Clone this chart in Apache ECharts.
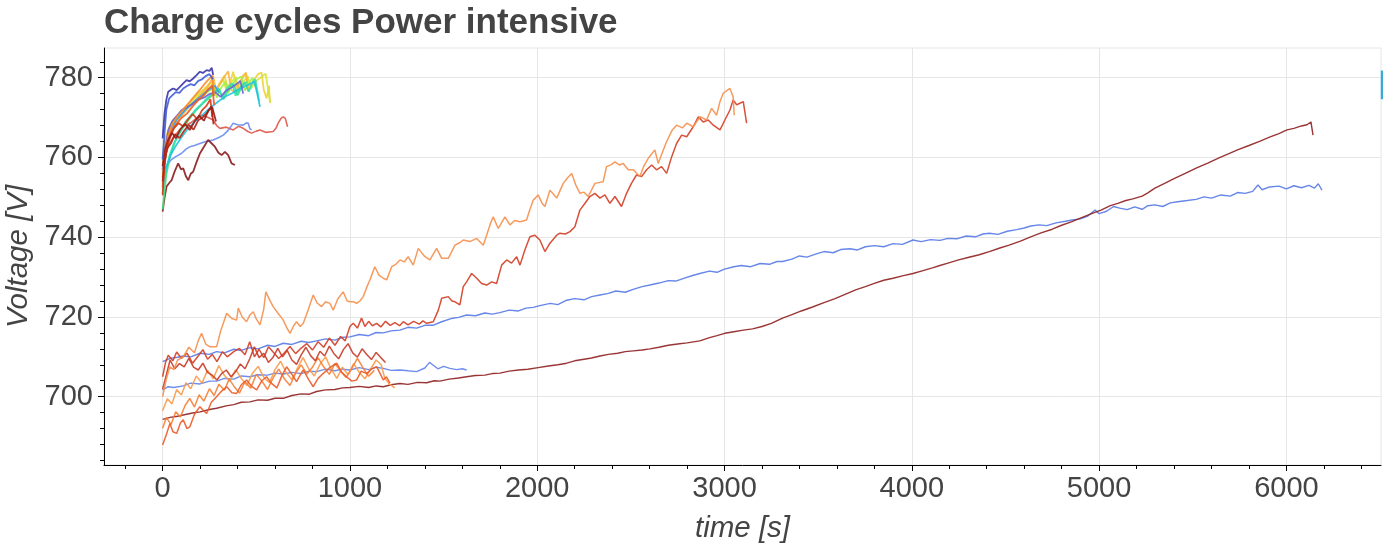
<!DOCTYPE html>
<html>
<head>
<meta charset="utf-8">
<title>Charge cycles Power intensive</title>
<script src="https://cdn.jsdelivr.net/npm/echarts@6/dist/echarts.min.js"></script>
<style>
  html, body { margin: 0; padding: 0; background: #ffffff; }
  #chart { width: 1391px; height: 550px; }
</style>
</head>
<body>
<div id="chart"></div>
<script>
// ---- axis ticks ----
const X_TICKS = [0, 1000, 2000, 3000, 4000, 5000, 6000];
const Y_TICKS = [700, 720, 740, 760, 780];

// ---- long charge cycles: [time s, voltage V] ----
const cycleLongBlue = [
  [0,708.8],[40,709.6],[80,709.9],[110,710.2],[150,710.0],[200,710.9],[250,710.6],[288,711.3],[330,711.0],[380,711.9],
  [420,711.6],[466,712.3],[510,712.0],[560,712.9],[600,712.6],[644,713.4],[690,713.1],[740,713.9],[780,713.6],[822,714.0],
  [870,714.5],[920,714.2],[960,714.9],[1000,715.0],[1050,715.6],[1100,715.3],[1140,716.1],[1178,716.0],[1220,716.5],[1267,716.7],
  [1310,717.4],[1356,717.2],[1400,717.9],[1443,717.9],[1490,718.8],[1540,719.6],[1580,719.9],[1623,720.5],[1670,720.3],[1720,721.0],
  [1760,720.7],[1801,721.1],[1850,721.7],[1900,721.5],[1940,722.2],[1979,722.4],[2020,722.9],[2070,723.4],[2110,723.1],[2157,724.2],
  [2200,724.6],[2250,724.3],[2290,725.1],[2335,725.5],[2380,725.9],[2420,726.5],[2470,726.2],[2512,726.9],[2560,727.6],[2602,728.0],
  [2650,728.5],[2700,729.1],[2740,729.0],[2790,729.8],[2830,730.4],[2868,730.9],[2920,731.5],[2960,731.2],[3000,732.0],[3050,732.6],
  [3090,732.9],[3140,732.6],[3190,733.4],[3240,733.2],[3280,733.9],[3310,733.9],[3360,734.5],[3400,735.3],[3440,735.0],[3490,735.8],
  [3531,736.4],[3580,736.1],[3620,736.9],[3670,737.1],[3710,736.8],[3752,737.6],[3800,737.9],[3850,737.6],[3900,738.4],[3950,738.2],
  [4006,739.3],[4050,738.9],[4100,739.4],[4150,739.2],[4193,739.7],[4240,739.6],[4290,740.3],[4340,740.1],[4380,740.8],[4414,741.0],
  [4460,740.7],[4510,741.5],[4560,741.9],[4600,742.3],[4635,742.8],[4680,743.1],[4720,742.9],[4770,743.6],[4820,744.0],[4855,744.3],
  [4900,744.6],[4940,745.3],[4978,746.8],[5000,745.9],[5040,746.5],[5077,747.7],[5110,747.3],[5150,746.9],[5190,747.6],[5230,747.0],
  [5260,747.9],[5298,748.1],[5340,747.7],[5380,748.6],[5420,748.9],[5470,749.2],[5518,749.5],[5560,750.1],[5600,749.8],[5650,750.6],
  [5700,750.3],[5739,751.2],[5780,751.0],[5820,751.5],[5848,753.1],[5870,751.9],[5910,752.6],[5960,752.8],[6000,752.1],[6040,752.9],
  [6080,752.4],[6120,753.0],[6150,752.3],[6170,753.4],[6190,751.8]
];
const cycleLongMaroon = [
  [0,694.3],[40,694.8],[80,695.1],[110,695.4],[160,695.9],[200,696.2],[250,696.8],[288,697.1],[340,697.7],[380,698.0],
  [420,698.6],[466,698.7],[510,699.2],[560,699.1],[600,699.6],[644,699.6],[690,700.3],[740,700.7],[780,700.6],[822,701.3],
  [870,701.7],[920,701.8],[960,702.2],[1000,702.3],[1050,702.6],[1100,702.3],[1140,702.7],[1178,702.5],[1220,703.0],[1267,703.3],
  [1310,703.1],[1360,703.6],[1410,703.5],[1450,704.0],[1480,703.9],[1530,704.4],[1580,704.7],[1623,705.0],[1670,705.3],[1720,705.4],
  [1760,705.8],[1801,705.9],[1850,706.4],[1900,706.7],[1950,706.9],[2005,707.3],[2060,707.7],[2110,708.0],[2157,708.4],[2200,709.0],
  [2250,709.4],[2290,709.7],[2335,710.2],[2380,710.6],[2430,710.9],[2470,711.3],[2513,711.5],[2560,711.7],[2602,712.0],[2650,712.4],
  [2700,712.9],[2750,713.2],[2800,713.5],[2868,714.0],[2920,714.8],[2960,715.3],[3001,715.9],[3050,716.3],[3100,716.7],[3150,717.0],
  [3200,717.6],[3250,718.4],[3310,719.7],[3360,720.6],[3410,721.5],[3470,722.5],[3531,723.6],[3590,724.6],[3650,725.8],[3700,726.8],
  [3752,727.6],[3800,728.4],[3850,729.2],[3900,729.7],[3950,730.3],[4006,730.9],[4060,731.6],[4110,732.3],[4150,732.9],[4193,733.5],
  [4250,734.3],[4300,734.9],[4360,735.6],[4414,736.4],[4470,737.3],[4520,738.0],[4580,739.0],[4635,740.1],[4690,741.1],[4750,742.0],
  [4800,743.0],[4855,743.9],[4900,744.8],[4960,745.9],[5010,746.8],[5060,747.9],[5100,748.5],[5143,749.2],[5180,749.6],[5230,750.3],
  [5260,751.1],[5298,752.3],[5350,753.5],[5400,754.7],[5460,756.0],[5518,757.3],[5580,758.6],[5640,759.9],[5690,760.9],[5739,761.9],
  [5800,763.0],[5860,764.1],[5910,765.1],[5960,766.0],[6003,766.9],[6040,767.3],[6080,767.9],[6110,768.2],[6131,768.9],[6142,765.6]
];
const cycleOrangeRise = [
  [0,700.0],[20,704.5],[39,707.5],[60,706.8],[80,709.2],[110,710.0],[140,712.4],[170,711.0],[190,714.0],[208,715.9],
  [230,713.2],[253,712.5],[288,712.5],[310,716.5],[342,720.9],[370,719.6],[395,719.2],[404,722.2],[425,720.0],[448,718.8],
  [466,720.5],[484,721.3],[500,719.5],[520,718.0],[540,722.0],[551,726.3],[570,724.4],[590,722.6],[615,721.0],[644,719.2],
  [662,717.4],[680,715.9],[700,717.8],[715,718.8],[735,717.6],[751,718.4],[775,721.5],[804,725.5],[825,723.5],[849,722.6],
  [870,723.8],[893,723.4],[911,721.7],[935,724.5],[964,726.3],[985,724.0],[1000,723.8],[1018,723.8],[1036,723.4],[1053,724.0],
  [1071,725.1],[1098,728.4],[1107,729.3],[1133,732.6],[1155,730.5],[1178,729.7],[1196,729.3],[1223,732.6],[1245,733.2],[1267,734.3],
  [1290,733.8],[1311,735.1],[1338,733.0],[1365,737.2],[1385,736.0],[1401,735.1],[1427,734.3],[1463,737.2],[1490,734.7],[1525,734.7],
  [1545,736.5],[1561,738.0],[1585,738.6],[1605,739.3],[1641,738.9],[1677,739.7],[1712,738.0],[1730,740.5],[1750,743.4],[1765,745.1],
  [1792,742.2],[1828,745.1],[1854,743.1],[1880,744.2],[1908,743.9],[1943,744.3],[1960,746.8],[1979,749.3],[2005,750.6],[2025,748.6],
  [2041,747.7],[2068,751.8],[2085,750.9],[2104,749.8],[2139,753.5],[2160,754.8],[2184,756.0],[2205,753.2],[2228,751.0],[2250,751.3],
  [2272,750.2],[2308,753.5],[2352,753.9],[2370,757.7],[2395,758.2],[2415,758.9],[2440,758.1],[2459,758.5],[2486,756.9],[2513,756.9],
  [2548,755.2],[2570,757.9],[2593,759.8],[2628,761.9],[2646,758.5],[2670,761.5],[2691,764.0],[2720,766.8],[2744,768.1],[2775,767.4],
  [2798,768.6],[2833,767.7],[2869,770.2],[2904,769.4],[2931,772.3],[2958,770.6],[2975,773.9],[2993,776.1],[3029,777.3],[3046,775.2],
  [3052,770.6]
];
const cycleRedRise = [
  [0,705.0],[15,708.5],[30,710.4],[55,709.0],[75,711.2],[100,709.6],[130,710.9],[160,708.4],[190,710.2],[215,711.8],
  [240,709.4],[265,710.6],[290,708.8],[320,711.3],[345,710.0],[380,711.3],[410,712.1],[440,710.5],[465,713.8],[490,710.0],
  [515,711.9],[540,709.8],[565,712.5],[590,711.2],[620,709.6],[650,711.0],[680,712.6],[710,710.8],[740,712.2],[770,713.3],
  [800,711.7],[830,713.8],[860,712.4],[890,714.7],[920,712.9],[950,715.1],[975,714.0],[1000,717.6],[1018,718.4],[1040,717.2],
  [1062,719.7],[1080,717.6],[1100,718.9],[1120,717.8],[1143,718.4],[1165,717.5],[1190,718.9],[1215,717.9],[1240,718.6],[1265,717.8],
  [1285,718.8],[1310,718.0],[1340,718.9],[1370,718.2],[1390,719.0],[1410,718.4],[1445,718.8],[1472,721.7],[1490,724.7],[1525,725.1],
  [1545,724.0],[1561,723.8],[1587,723.0],[1605,727.6],[1623,728.8],[1650,730.9],[1677,729.7],[1703,728.4],[1730,728.0],[1757,728.8],
  [1783,728.4],[1810,733.0],[1837,734.3],[1863,733.5],[1890,735.1],[1908,733.0],[1934,736.8],[1961,740.1],[1988,740.5],[2014,739.3],
  [2041,736.4],[2068,738.5],[2104,740.5],[2121,741.0],[2150,740.8],[2175,741.4],[2201,742.6],[2228,746.8],[2255,748.5],[2281,750.2],
  [2308,751.0],[2335,749.8],[2361,750.6],[2388,748.5],[2415,750.2],[2450,747.7],[2477,751.0],[2503,753.5],[2530,755.6],[2557,755.2],
  [2584,756.9],[2611,758.1],[2637,756.9],[2664,757.7],[2691,756.0],[2718,760.2],[2744,763.5],[2771,765.6],[2798,765.2],[2833,767.7],
  [2860,770.2],[2886,768.9],[2913,769.4],[2940,768.1],[2976,766.9],[3002,769.4],[3029,771.9],[3046,774.4],[3065,773.2],[3082,773.6],
  [3100,774.0],[3118,768.6]
];

// ---- medium cycles (stop after roughly 1200-1600 s) ----
const cycleBlueShort = [
  [0,701.7],[30,702.5],[60,702.3],[110,702.7],[150,703.4],[200,703.2],[250,703.9],[288,703.9],[330,704.6],[380,704.4],
  [420,705.2],[466,705.0],[510,705.5],[560,705.4],[600,705.9],[644,705.7],[690,706.1],[740,705.8],[780,706.4],[822,706.3],
  [870,706.9],[920,706.5],[960,706.9],[1000,706.7],[1050,707.3],[1100,706.8],[1140,707.4],[1178,707.1],[1220,706.6],[1267,706.7],
  [1310,706.5],[1356,706.3],[1400,707.2],[1425,708.6],[1445,707.9],[1470,707.0],[1500,707.6],[1534,707.1],[1570,706.8],[1600,707.0],
  [1623,706.7]
];
const cycleOrangeLow = [
  [0,696.5],[25,699.5],[50,698.2],[75,701.8],[100,700.4],[125,703.5],[150,702.0],[180,705.2],[210,703.4],[240,706.6],
  [270,704.5],[300,707.8],[330,705.3],[360,703.9],[390,706.8],[420,704.6],[450,702.8],[480,705.9],[510,707.6],[540,704.9],
  [570,703.5],[600,706.8],[630,708.9],[660,706.0],[690,704.3],[720,707.2],[750,709.8],[780,707.0],[810,705.2],[840,708.1],
  [870,710.0],[900,706.9],[930,704.6],[960,707.4],[990,705.5],[1020,708.3],[1050,706.1],[1080,704.5],[1110,706.9],[1140,709.2],
  [1167,708.0],[1185,704.8],[1210,703.2],[1239,702.2]
];
const cycleOrangeRedLow = [
  [0,687.9],[20,690.5],[39,693.3],[55,691.2],[75,690.8],[95,693.4],[110,694.2],[130,692.0],[146,692.5],[170,695.6],
  [199,697.5],[220,696.4],[235,695.8],[260,698.6],[288,700.0],[315,701.4],[342,702.5],[370,701.0],[395,700.8],[420,703.0],
  [448,704.2],[475,702.6],[502,701.7],[530,704.0],[555,705.0],[580,703.4],[610,702.2],[635,705.1],[662,707.5],[690,705.6],
  [715,703.8],[735,705.5],[751,706.7],[780,704.3],[804,702.5],[830,704.6],[857,705.8],[890,707.2],[929,708.4],[955,706.2],
  [982,705.0],[1010,703.9],[1036,704.2],[1060,706.4],[1089,705.8],[1115,706.9],[1143,707.5],[1160,705.9],[1178,704.2],[1195,705.0],
  [1214,703.4]
];
const cycleOrangeMid = [
  [0,692.1],[20,694.8],[45,693.0],[70,696.2],[95,694.9],[120,697.8],[145,699.6],[170,697.4],[195,700.5],[220,698.9],
  [250,702.0],[275,700.3],[300,703.1],[330,701.6],[355,704.4],[380,702.7],[410,700.9],[440,703.8],[470,702.1],[500,705.6],
  [530,703.9],[560,701.8],[590,704.7],[620,706.9],[650,704.5],[680,702.8],[710,705.9],[740,708.0],[770,705.7],[800,707.4],
  [830,709.8],[860,707.5],[890,705.6],[920,708.3],[950,706.4],[980,704.8],[1010,707.1],[1040,709.6],[1070,707.2],[1100,705.1],
  [1130,706.6]
];
const cycleRedMid = [
  [0,701.9],[20,705.5],[40,709.2],[65,707.0],[90,708.3],[115,707.5],[140,709.6],[165,707.4],[190,706.7],[215,708.4],
  [240,706.1],[265,705.4],[290,704.2],[315,705.8],[340,706.7],[365,705.0],[390,706.3],[415,708.2],[440,707.0],[465,709.5],
  [490,712.5],[515,709.8],[540,710.9],[565,708.6],[590,709.9],[615,712.1],[640,710.0],[665,711.6],[690,709.2],[715,708.1],
  [740,710.5],[765,712.4],[790,710.3],[815,709.0],[840,711.4],[865,710.2],[890,712.7],[915,710.8],[940,709.5],[965,711.8],
  [990,713.3],[1015,711.0],[1040,709.9],[1065,712.0],[1090,710.6],[1115,709.3],[1140,711.1],[1165,709.8],[1190,708.6]
];

// ---- short cycles (first few hundred seconds) ----
const cycleShortIndigo = [
  [0,764.8],[10,771.0],[20,774.5],[30,776.5],[45,777.0],[57,777.3],[75,776.9],[92,777.7],[110,778.6],[128,779.4],
  [145,779.1],[163,779.8],[180,780.6],[199,781.5],[215,781.2],[235,781.9],[250,781.7],[262,782.5],[270,780.7]
];
const cycleShortBlue = [
  [0,759.5],[10,766.0],[20,772.0],[35,774.8],[50,775.5],[70,776.4],[90,776.2],[110,777.3],[130,777.9],[150,778.4],
  [170,778.1],[190,779.2],[210,779.6],[230,780.4],[250,780.9],[268,779.6]
];
const cycleShortViolet = [
  [0,757.0],[15,762.5],[30,766.8],[50,769.0],[75,770.4],[100,771.8],[130,772.6],[160,773.4],[190,774.5],[220,775.0],
  [250,775.9],[280,776.4],[310,775.2],[340,776.8],[370,777.6],[395,778.4],[415,779.2],[430,776.0]
];
const cycleShortSky = [
  [0,755.8],[15,760.0],[30,764.6],[50,767.2],[75,769.5],[100,770.8],[130,772.4],[160,773.6],[190,774.8],[220,776.0],
  [250,777.1],[280,778.0],[300,776.2]
];
const cycleShortCyan = [
  [0,753.5],[20,757.6],[45,760.8],[70,762.9],[100,765.0],[130,766.9],[160,768.4],[190,769.8],[220,771.0],[250,772.3],
  [280,773.4],[310,774.5],[340,775.4],[370,776.1],[400,776.9],[430,777.6],[460,778.3],[490,779.0],[505,776.0],[520,772.7]
];
const cycleShortTeal = [
  [0,751.0],[15,756.0],[35,760.2],[60,763.5],[90,766.4],[120,768.8],[150,770.5],[180,772.2],[210,773.5],[240,775.0],
  [270,776.2],[300,777.3],[320,775.0],[345,777.4],[370,778.6],[390,775.5],[415,777.6],[440,778.8],[460,776.5],[480,778.9],
  [495,779.6],[515,774.2]
];
const cycleShortGreen = [
  [0,747.0],[20,755.8],[40,760.4],[65,763.8],[90,766.0],[120,768.3],[150,770.1],[180,771.9],[210,773.3],[240,774.6],
  [270,775.8],[300,777.0],[325,774.6],[350,776.9],[380,778.4],[400,775.6],[425,777.9],[450,779.0]
];
const cycleShortLime = [
  [0,756.5],[15,762.0],[35,765.9],[60,768.3],[90,770.6],[120,771.8],[150,773.2],[180,774.0],[210,775.3],[240,776.4],
  [270,777.5],[290,775.0],[310,777.3],[335,778.9],[350,776.2],[370,778.2],[395,779.6],[420,780.3],[440,776.8],[465,778.9],
  [480,780.0],[500,777.2]
];
const cycleShortChartreuse = [
  [0,758.0],[15,763.2],[35,766.5],[60,768.9],[90,770.5],[120,772.2],[150,773.9],[180,775.2],[210,776.4],[240,777.6],
  [260,778.8],[275,776.0],[300,777.9],[325,779.5],[340,776.8],[365,778.7],[390,780.2],[405,777.1],[430,778.9],[455,780.4],
  [470,777.2],[500,779.2],[530,780.3],[550,781.0],[565,776.5],[575,773.6]
];
const cycleShortYellow = [
  [0,760.0],[15,764.8],[35,767.5],[60,769.6],[90,771.0],[120,772.7],[150,774.0],[180,775.6],[210,776.7],[240,778.0],
  [265,779.3],[280,776.4],[305,778.7],[330,780.5],[350,777.3],[377,781.5],[395,777.6],[420,779.5],[445,781.0],[460,776.9],
  [485,779.3],[510,780.9],[528,781.3],[540,777.0],[555,774.8],[568,778.0],[573,773.8]
];
const cycleShortAmber = [
  [0,757.0],[15,762.6],[35,766.2],[60,768.0],[90,769.8],[120,771.5],[150,773.2],[180,774.6],[210,776.0],[235,777.4],
  [255,778.9],[270,780.4],[285,776.8],[310,778.8],[335,780.6],[350,781.6],[365,777.0],[390,776.3],[410,778.6],[430,780.5],
  [445,781.3],[458,776.5]
];
const cycleShortOrange = [
  [0,755.0],[12,761.0],[30,765.4],[55,768.6],[80,770.4],[110,772.0],[140,773.7],[170,775.4],[200,777.0],[225,778.5],
  [250,779.8],[265,780.6],[275,775.4]
];
const cycleShortOrangeRed = [
  [0,752.5],[10,758.5],[25,763.0],[45,766.4],[70,768.1],[100,769.9],[130,771.0],[160,772.8],[190,774.4],[220,775.6],
  [245,777.2],[265,778.1],[275,773.2]
];
const cycleShortRed = [
  [0,750.5],[8,757.0],[20,762.0],[40,765.0],[60,767.3],[85,768.6],[110,767.8],[135,769.5],[160,770.9],[185,769.6],
  [210,771.8],[235,773.0],[255,774.6],[265,770.2]
];
const cycleShortCrimson = [
  [0,754.0],[10,759.0],[25,762.4],[45,763.6],[65,765.8],[90,764.9],[115,766.7],[140,768.2],[165,767.0],[190,769.3],
  [215,770.1],[240,771.4],[260,772.8],[272,768.3]
];
const cycleShortMaroon = [
  [0,757.8],[12,762.0],[30,764.5],[50,766.2],[70,764.8],[95,767.1],[120,768.4],[145,766.9],[170,769.0],[195,770.5],
  [220,769.2],[245,771.8],[265,772.6],[285,769.0]
];
const cycleShortBrown = [
  [0,746.4],[10,749.8],[21,752.7],[35,753.6],[48,754.3],[65,756.6],[83,758.5],[98,757.0],[110,757.3],[125,755.2],
  [137,754.3],[150,755.9],[163,756.4],[180,758.7],[199,761.0],[220,762.6],[243,764.4],[262,763.5],[279,762.7],[298,761.2],
  [315,760.6],[333,761.4],[350,760.6],[368,758.5],[386,758.1]
];
const cycleShortSalmon = [
  [0,755.0],[15,760.5],[35,763.4],[60,765.2],[90,766.9],[120,768.0],[150,768.7],[180,769.8],[210,770.6],[240,770.1],
  [270,769.4],[290,767.9],[306,767.3],[340,767.6],[377,766.9],[405,767.8],[430,767.3],[455,766.5],[475,766.1],[500,766.6],
  [520,766.9],[550,766.3],[590,766.5],[605,767.3],[617,768.6],[632,769.8],[644,770.2],[655,769.8],[667,767.7]
];
const cycleShortCornflower = [
  [0,756.0],[20,757.8],[45,759.4],[70,760.2],[100,761.0],[125,762.1],[146,762.7],[170,763.0],[199,763.5],[230,764.0],
  [270,764.4],[300,765.0],[324,765.6],[350,766.8],[377,768.6],[400,768.2],[430,768.1],[445,768.6],[457,768.6],[466,767.2],
  [475,766.9]
];
// short segment at the right border of the plot
const edgeMark = [[6512,774.6],[6512,781.8]];

// ---- colour and width for each trace ----
const TRACES = [
  [cycleLongBlue, '#5579e6', 1.4],
  [cycleLongMaroon, '#8e1f1f', 1.4],
  [cycleBlueShort, '#5f82ea', 1.4],
  [cycleOrangeLow, '#fa9a4a', 1.5],
  [cycleOrangeMid, '#f57e36', 1.5],
  [cycleOrangeRedLow, '#ec5a27', 1.5],
  [cycleRedMid, '#c83a26', 1.5],
  [cycleRedRise, '#d33d24', 1.5],
  [cycleOrangeRise, '#f68f4c', 1.5],
  [cycleShortSalmon, '#e0584a', 1.6],
  [cycleShortCornflower, '#6a8cf0', 1.6],
  [cycleShortBrown, '#8a1c1c', 1.8],
  [cycleShortYellow, '#efd23a', 1.8],
  [cycleShortChartreuse, '#d6e43a', 1.8],
  [cycleShortAmber, '#f8b640', 1.8],
  [cycleShortLime, '#9ef04a', 1.8],
  [cycleShortGreen, '#3de07a', 1.8],
  [cycleShortTeal, '#2fe0b4', 1.8],
  [cycleShortCyan, '#22c2dc', 1.8],
  [cycleShortSky, '#3a9cf0', 1.8],
  [cycleShortViolet, '#7060d4', 1.8],
  [cycleShortOrange, '#f98b2c', 1.8],
  [cycleShortOrangeRed, '#ee5c20', 1.8],
  [cycleShortRed, '#d63a18', 1.8],
  [cycleShortCrimson, '#b42214', 1.8],
  [cycleShortMaroon, '#961d18', 1.8],
  [cycleShortBlue, '#3f5ed8', 1.8],
  [cycleShortIndigo, '#3a35a8', 1.8],
  [edgeMark, '#1fa4d6', 3]
];

const FONT = '"Liberation Sans", Arial, Helvetica, sans-serif';
const INK = '#444444';

const chart = echarts.init(document.getElementById('chart'), null, { renderer: 'canvas' });

chart.setOption({
  animation: false,
  backgroundColor: '#ffffff',
  textStyle: { fontFamily: FONT },
  title: {
    text: 'Charge cycles Power intensive',
    left: 104,
    top: 6,
    padding: 0,
    textStyle: { fontFamily: FONT, fontSize: 35, fontWeight: 'bold', color: INK }
  },
  grid: {
    left: 104, right: 10, top: 48, bottom: 85,
    show: true, borderColor: '#e6e6e6', borderWidth: 1,
    outerBoundsMode: 'none'
  },
  xAxis: {
    type: 'value',
    min: -313,
    max: 6505,
    splitNumber: 5,
    name: 'time [s]',
    nameLocation: 'middle',
    nameGap: 49,
    nameTextStyle: { fontFamily: FONT, fontSize: 29.5, fontStyle: 'italic', color: INK },
    axisLine: { show: true, onZero: false, lineStyle: { color: '#000', width: 1 } },
    axisTick: { show: true, inside: false, length: 6, customValues: X_TICKS, lineStyle: { color: '#000' } },
    minorTick: { show: true, splitNumber: 5, length: 4, lineStyle: { color: '#000' } },
    axisLabel: { customValues: X_TICKS, fontFamily: FONT, fontSize: 29, color: INK, margin: 9, formatter: v => String(v) },
    splitLine: { show: true, lineStyle: { color: '#e6e6e6', width: 1 } },
    minorSplitLine: { show: false }
  },
  yAxis: {
    type: 'value',
    min: 682.87,
    max: 787.45,
    splitNumber: 5,
    name: 'Voltage [V]',
    nameLocation: 'middle',
    nameGap: 51,
    nameTextStyle: { fontFamily: FONT, fontSize: 29.5, fontStyle: 'italic', color: INK },
    axisLine: { show: true, onZero: false, lineStyle: { color: '#000', width: 1 } },
    axisTick: { show: true, inside: false, length: 6, customValues: Y_TICKS, lineStyle: { color: '#000' } },
    minorTick: { show: true, splitNumber: 5, length: 4, lineStyle: { color: '#000' } },
    axisLabel: { customValues: Y_TICKS, fontFamily: FONT, fontSize: 29, color: INK, margin: 11, formatter: v => String(v) },
    splitLine: { show: true, lineStyle: { color: '#e6e6e6', width: 1 } },
    minorSplitLine: { show: false }
  },
  series: TRACES.map(([data, color, width], i) => ({
    type: 'line',
    name: 'cycle ' + (i + 1),
    data: data,
    showSymbol: false,
    symbol: 'none',
    clip: data !== edgeMark,
    silent: true,
    lineStyle: { color: color, width: width, opacity: 0.9 }
  }))
});
</script>
</body>
</html>
